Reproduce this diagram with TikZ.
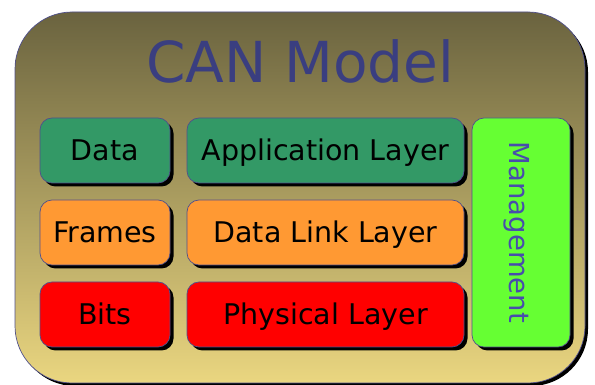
\documentclass[tikz,border=0pt]{standalone}
\usepackage{fontspec}
\setmainfont{DejaVu Sans}
\usetikzlibrary{shadows}
\definecolor{bgtop}{RGB}{106,99,63}
\definecolor{bgbot}{RGB}{234,214,128}
\definecolor{edgecol}{RGB}{80,80,140}
\definecolor{titlecol}{RGB}{58,62,128}
\definecolor{mgmttext}{RGB}{72,76,172}
\definecolor{appgreen}{RGB}{51,153,102}
\definecolor{linkorange}{RGB}{255,153,51}
\definecolor{physred}{RGB}{255,0,0}
\definecolor{mgmtgreen}{RGB}{102,255,51}
\begin{document}
\begin{tikzpicture}[x=1pt,y=1pt,
  layerbox/.style={rectangle, rounded corners=12pt, draw=edgecol, line width=0.7pt,
    minimum height=65pt, inner sep=0pt, font=\fontsize{28.5}{30}\selectfont, text=black,
    drop shadow={shadow xshift=3.5pt, shadow yshift=-3.5pt, fill=black, opacity=1}},
  leftbox/.style={layerbox, minimum width=130pt},
  midbox/.style={layerbox, minimum width=277pt},
  boxlabel/.style={anchor=base, inner sep=0pt, font=\fontsize{28.5}{30}\selectfont, text=black}]
\useasboundingbox (0,0) rectangle (595,385);
\clip (0,0) rectangle (595,385);
% outer panel
\fill[black, rounded corners=57pt] (18,-1) rectangle (588,370);
\draw[edgecol, line width=0.7pt, top color=bgtop, bottom color=bgbot, rounded corners=57pt] (15,2) rectangle (585,373);
% title
\node[anchor=base, text=titlecol, font=\fontsize{56.5}{60}\selectfont, inner sep=0pt] (title) at (300,302) {CAN Model};
% rows
\node[leftbox, fill=appgreen] (data) at (105,234.5) {};
\node[boxlabel] (datat) at (105,224) {Data};
\node[midbox, fill=appgreen] (app) at (325.5,234.5) {};
\node[boxlabel] (appt) at (325.5,224) {Application Layer};
\node[leftbox, fill=linkorange] (frames) at (105,152.5) {};
\node[boxlabel] (framest) at (105,142) {Frames};
\node[midbox, fill=linkorange] (link) at (325.5,152.5) {};
\node[boxlabel] (linkt) at (325.5,142) {Data Link Layer};
\node[leftbox, fill=physred] (bits) at (105,70.5) {};
\node[boxlabel] (bitst) at (105,60) {Bits};
\node[midbox, fill=physred] (phys) at (325.5,70.5) {};
\node[boxlabel] (physt) at (325.5,60) {Physical Layer};
% management
\node[layerbox, fill=mgmtgreen, minimum width=98pt, minimum height=229pt] (mgmt) at (521,152.5) {};
\node[rotate=-90, anchor=base, text=mgmttext, font=\fontsize{27.5}{30}\selectfont, inner sep=0pt] (mgmtlabel) at (509.5,152.5) {Management};
\end{tikzpicture}
\end{document}
